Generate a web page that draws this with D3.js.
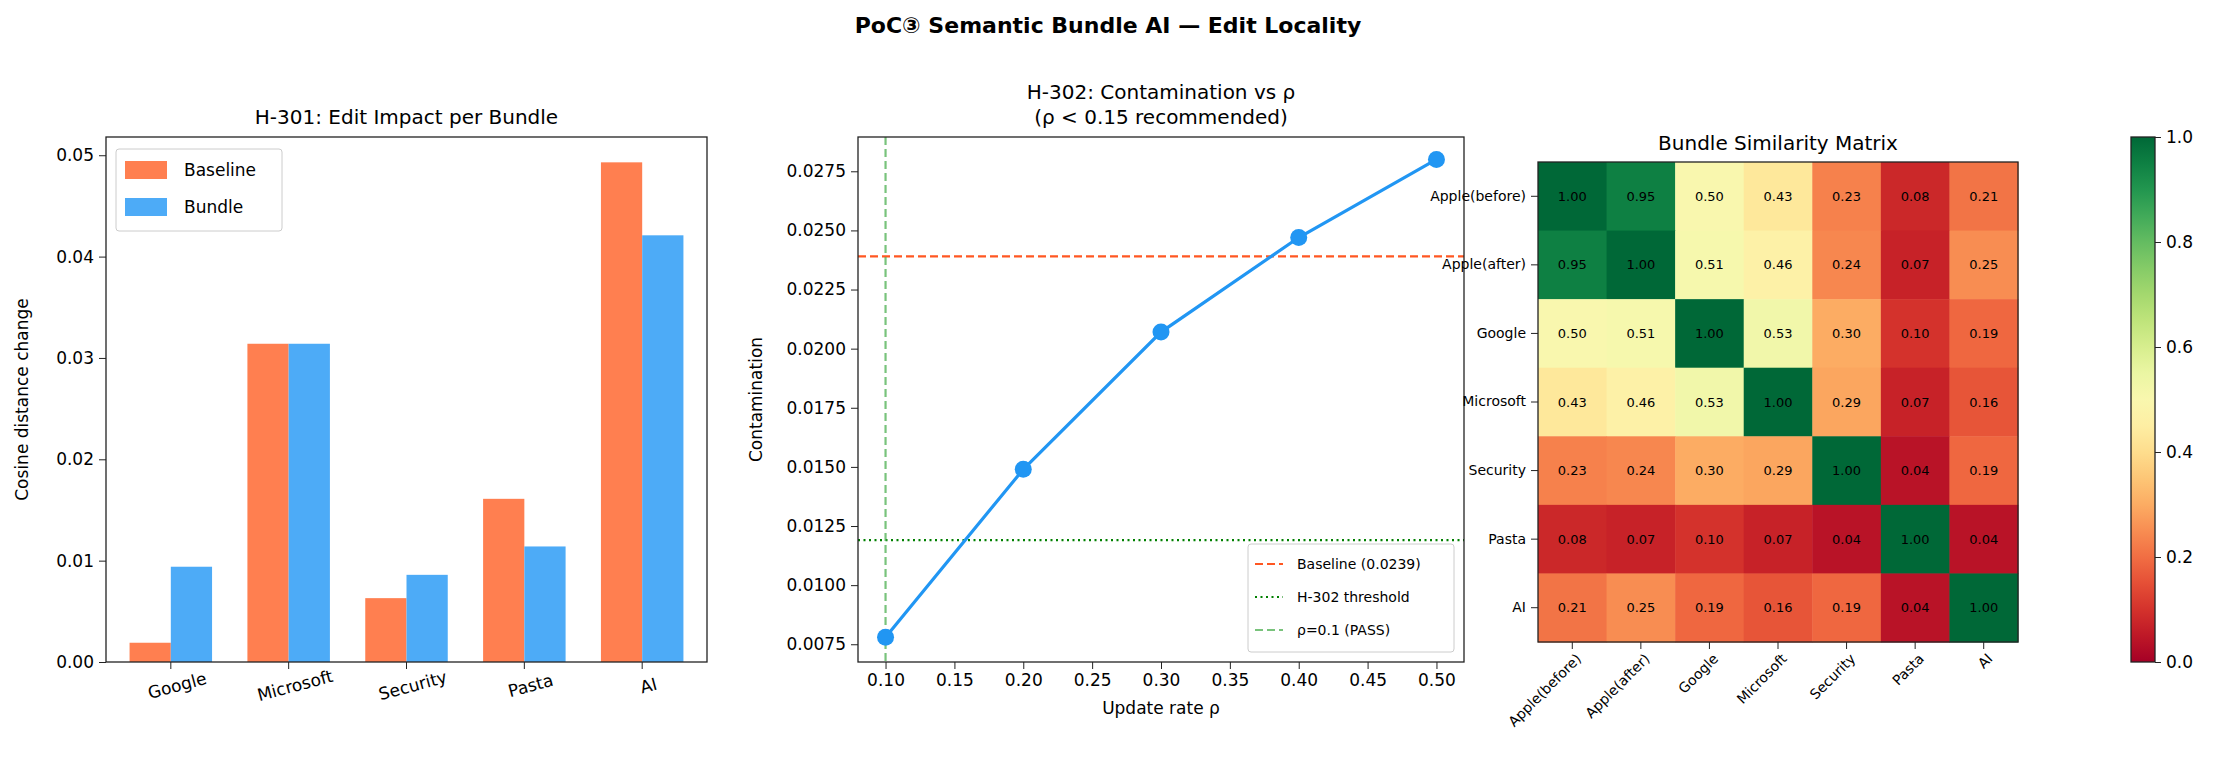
<!DOCTYPE html>
<html><head><meta charset="utf-8">
<script src="https://cdn.jsdelivr.net/npm/d3@7"></script>
<style>body{margin:0;background:#fff}text{font-family:"DejaVu Sans",sans-serif}</style>
</head><body><svg id="c" width="2217" height="763"></svg>
<script>
(function() {
	'use strict';

	// Data
	const bundles = ['Google', 'Microsoft', 'Security', 'Pasta', 'AI'];
	const baselineImpact = [0.0019, 0.0314, 0.0063, 0.0161, 0.0493];
	const bundleImpact = [0.0094, 0.0314, 0.0086, 0.0114, 0.0421];

	const rhoValues = [0.1, 0.2, 0.3, 0.4, 0.5];
	const contamination = [0.0078, 0.0149, 0.0207, 0.0247, 0.0280];
	const baselineLevel = 0.0239;
	const thresholdLevel = 0.0119;
	const passRho = 0.1;

	const matrixLabels = ['Apple(before)', 'Apple(after)', 'Google', 'Microsoft', 'Security', 'Pasta', 'AI'];
	const similarity = [
		[1.00, 0.95, 0.50, 0.43, 0.23, 0.08, 0.21],
		[0.95, 1.00, 0.51, 0.46, 0.24, 0.07, 0.25],
		[0.50, 0.51, 1.00, 0.53, 0.30, 0.10, 0.19],
		[0.43, 0.46, 0.53, 1.00, 0.29, 0.07, 0.16],
		[0.23, 0.24, 0.30, 0.29, 1.00, 0.04, 0.19],
		[0.08, 0.07, 0.10, 0.07, 0.04, 1.00, 0.04],
		[0.21, 0.25, 0.19, 0.16, 0.19, 0.04, 1.00]
	];

	const svg = d3.select('#c');

	svg.append('text').attr('x', 1108).attr('y', 33).attr('text-anchor', 'middle')
		.attr('font-size', 22).attr('font-weight', 'bold').text('PoC③ Semantic Bundle AI — Edit Locality');

	function frame(g, w, h) {
		g.append('rect').attr('width', w).attr('height', h)
			.attr('fill', 'none').attr('stroke', '#222').attr('stroke-width', 1.3);
	}
	function styleAxis(sel, fs) {
		sel.selectAll('path').remove();
		sel.selectAll('text').attr('font-size', fs).attr('fill', '#000');
		sel.selectAll('line').attr('stroke', '#222');
	}

	// Panel 1: bar chart
	{
		const L = 106, T = 137, W = 601, H = 525;
		const g = svg.append('g').attr('transform', `translate(${L},${T})`);
		const x = d3.scaleBand().domain(bundles).range([0, W]).paddingInner(0.3).paddingOuter(0.2);
		const y = d3.scaleLinear().domain([0, 0.0518]).range([H, 0]);
		const bw = x.bandwidth() / 2;
		g.selectAll('.b1').data(bundles).join('rect')
			.attr('x', d => x(d)).attr('width', bw)
			.attr('y', (d, i) => y(baselineImpact[i])).attr('height', (d, i) => H - y(baselineImpact[i]))
			.attr('fill', '#FF7F50');
		g.selectAll('.b2').data(bundles).join('rect')
			.attr('x', d => x(d) + bw).attr('width', bw)
			.attr('y', (d, i) => y(bundleImpact[i])).attr('height', (d, i) => H - y(bundleImpact[i]))
			.attr('fill', '#4DABF7');
		const ax = g.append('g').attr('transform', `translate(0,${H})`)
			.call(d3.axisBottom(x).tickSize(7).tickPadding(8));
		styleAxis(ax, 17);
		ax.selectAll('text').attr('transform', 'rotate(-15)').attr('dy', '0.9em');
		const ay = g.append('g').call(d3.axisLeft(y).tickValues([0, 0.01, 0.02, 0.03, 0.04, 0.05])
			.tickFormat(d3.format('.2f')).tickSize(7).tickPadding(5));
		styleAxis(ay, 17);
		frame(g, W, H);
		g.append('text').attr('transform', `translate(-78,${H / 2}) rotate(-90)`)
			.attr('text-anchor', 'middle').attr('font-size', 17).text('Cosine distance change');
		g.append('text').attr('x', W / 2).attr('y', -13).attr('text-anchor', 'middle')
			.attr('font-size', 20).text('H-301: Edit Impact per Bundle');
		const lg = g.append('g').attr('transform', 'translate(10,12)');
		lg.append('rect').attr('width', 166).attr('height', 82).attr('rx', 3)
			.attr('fill', '#fff').attr('stroke', '#ccc');
		[['Baseline', '#FF7F50'], ['Bundle', '#4DABF7']].forEach((d, i) => {
			lg.append('rect').attr('x', 9).attr('y', 12 + i * 37).attr('width', 42).attr('height', 18).attr('fill', d[1]);
			lg.append('text').attr('x', 68).attr('y', 27 + i * 37).attr('font-size', 17).text(d[0]);
		});
	}

	// Panel 2: line chart
	{
		const L = 858, T = 137, W = 606, H = 525;
		const g = svg.append('g').attr('transform', `translate(${L},${T})`);
		const x = d3.scaleLinear().domain([0.08, 0.52]).range([0, W]);
		const y = d3.scaleLinear().domain([0.00675, 0.02895]).range([H, 0]);
		g.append('line').attr('x1', 0).attr('x2', W).attr('y1', y(baselineLevel)).attr('y2', y(baselineLevel))
			.attr('stroke', '#FF5722').attr('stroke-width', 2.2).attr('stroke-dasharray', '8,4');
		g.append('line').attr('x1', 0).attr('x2', W).attr('y1', y(thresholdLevel)).attr('y2', y(thresholdLevel))
			.attr('stroke', 'green').attr('stroke-width', 2.2).attr('stroke-dasharray', '2,3.5');
		g.append('line').attr('x1', x(passRho)).attr('x2', x(passRho)).attr('y1', 0).attr('y2', H)
			.attr('stroke', '#4CAF50').attr('stroke-opacity', 0.75).attr('stroke-width', 2.2).attr('stroke-dasharray', '8,4');
		const pts = rhoValues.map((r, i) => [r, contamination[i]]);
		g.append('path').datum(pts).attr('fill', 'none').attr('stroke', '#2196F3').attr('stroke-width', 3.2)
			.attr('d', d3.line().x(d => x(d[0])).y(d => y(d[1])));
		g.selectAll('circle').data(pts).join('circle')
			.attr('cx', d => x(d[0])).attr('cy', d => y(d[1])).attr('r', 8.5).attr('fill', '#2196F3');
		const ax = g.append('g').attr('transform', `translate(0,${H})`)
			.call(d3.axisBottom(x).tickValues(d3.range(0.1, 0.501, 0.05)).tickFormat(d3.format('.2f')).tickSize(7).tickPadding(5));
		styleAxis(ax, 17);
		const ay = g.append('g').call(d3.axisLeft(y).tickValues(d3.range(0.0075, 0.02751, 0.0025))
			.tickFormat(d3.format('.4f')).tickSize(7).tickPadding(5));
		styleAxis(ay, 17);
		frame(g, W, H);
		g.append('text').attr('x', W / 2).attr('y', H + 52).attr('text-anchor', 'middle').attr('font-size', 17).text('Update rate ρ');
		g.append('text').attr('transform', `translate(-96,${H / 2}) rotate(-90)`)
			.attr('text-anchor', 'middle').attr('font-size', 17).text('Contamination');
		g.append('text').attr('x', W / 2).attr('y', -38).attr('text-anchor', 'middle').attr('font-size', 20).text('H-302: Contamination vs ρ');
		g.append('text').attr('x', W / 2).attr('y', -13).attr('text-anchor', 'middle').attr('font-size', 20).text('(ρ < 0.15 recommended)');
		const lg = g.append('g').attr('transform', `translate(${W - 216},${H - 118})`);
		lg.append('rect').attr('width', 206).attr('height', 108).attr('rx', 3).attr('fill', '#fff').attr('stroke', '#ccc');
		[['Baseline (0.0239)', '#FF5722', '8,4', 1], ['H-302 threshold', 'green', '2,3.5', 1], ['ρ=0.1 (PASS)', '#4CAF50', '8,4', 0.75]].forEach((d, i) => {
			const yy = 20 + i * 33;
			lg.append('line').attr('x1', 7).attr('x2', 35).attr('y1', yy).attr('y2', yy)
				.attr('stroke', d[1]).attr('stroke-opacity', d[3]).attr('stroke-width', 2.2).attr('stroke-dasharray', d[2]);
			lg.append('text').attr('x', 49).attr('y', yy + 5).attr('font-size', 14).text(d[0]);
		});
	}

	// Panel 3: heatmap
	{
		const L = 1538, T = 162, S = 480;
		const g = svg.append('g').attr('transform', `translate(${L},${T})`);
		const x = d3.scaleBand().domain(matrixLabels).range([0, S]);
		const color = d3.scaleSequential(d3.interpolateRdYlGn).domain([0, 1]);
		similarity.forEach((row, i) => {
			row.forEach((v, j) => {
				g.append('rect').attr('x', x(matrixLabels[j])).attr('y', x(matrixLabels[i]))
					.attr('width', x.bandwidth() + 0.5).attr('height', x.bandwidth() + 0.5).attr('fill', color(v));
				g.append('text').attr('x', x(matrixLabels[j]) + x.bandwidth() / 2).attr('y', x(matrixLabels[i]) + x.bandwidth() / 2)
					.attr('dy', '0.35em').attr('text-anchor', 'middle').attr('font-size', 13).text(v.toFixed(2));
			});
		});
		const ax = g.append('g').attr('transform', `translate(0,${S})`).call(d3.axisBottom(x).tickSize(7).tickPadding(4));
		styleAxis(ax, 14);
		ax.selectAll('text').attr('text-anchor', 'end').attr('transform', 'rotate(-45)').attr('dx', '-0.4em').attr('dy', '0.6em');
		const ay = g.append('g').call(d3.axisLeft(x).tickSize(7).tickPadding(5));
		styleAxis(ay, 14);
		frame(g, S, S);
		g.append('text').attr('x', S / 2).attr('y', -12).attr('text-anchor', 'middle').attr('font-size', 20).text('Bundle Similarity Matrix');

		// colorbar
		const cL = 2131, cW = 24, cT = 137, cH = 525;
		const defs = svg.append('defs');
		const grad = defs.append('linearGradient').attr('id', 'cb').attr('x1', 0).attr('x2', 0).attr('y1', 1).attr('y2', 0);
		d3.range(0, 1.001, 0.05).forEach(t => grad.append('stop').attr('offset', t).attr('stop-color', color(t)));
		const cg = svg.append('g').attr('transform', `translate(${cL},${cT})`);
		cg.append('rect').attr('width', cW).attr('height', cH).attr('fill', 'url(#cb)');
		frame(cg, cW, cH);
		const cy = d3.scaleLinear().domain([0, 1]).range([cH, 0]);
		const ca = cg.append('g').attr('transform', `translate(${cW},0)`)
			.call(d3.axisRight(cy).tickValues([0, 0.2, 0.4, 0.6, 0.8, 1]).tickFormat(d3.format('.1f')).tickSize(6).tickPadding(5));
		styleAxis(ca, 17);
	}
})();
</script></body></html>
